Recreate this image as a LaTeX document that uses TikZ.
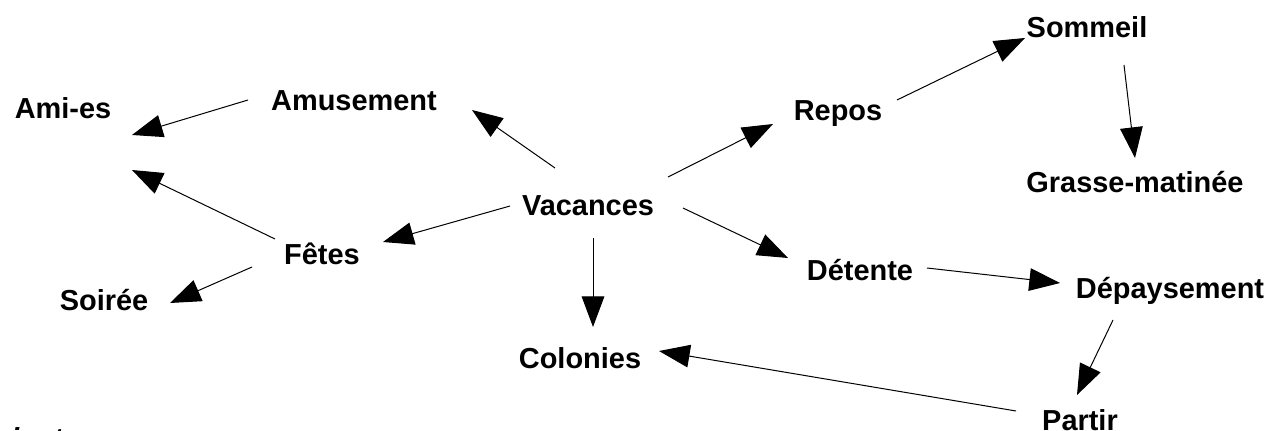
\documentclass[tikz,border=0pt]{standalone}
\usepackage{fontspec}
\setmainfont{Liberation Sans}
\usetikzlibrary{arrows.meta}
\tikzset{>={Triangle[length=23pt,width=17pt]}}
\tikzset{mot/.style={font=\bfseries\fontsize{21.7}{26}\selectfont, inner sep=0pt, text height=15.6pt, text depth=0pt}}

\begin{document}
\begin{tikzpicture}[x=0.75pt, y=-0.75pt, line width=0.75pt]
\useasboundingbox (0,0) rectangle (1281,431);
% les mots
\node[mot] (vac) at (588,205) {Vacances};
\node[mot] (amus) at (354,100) {Amusement};
\node[mot] (amies) at (63,108) {Ami-es};
\node[mot] (fetes) at (322,254) {Fêtes};
\node[mot] (soiree) at (104,300) {Soirée};
\node[mot] (col) at (580,358) {Colonies};
\node[mot] (repos) at (838,110) {Repos};
\node[mot] (som) at (1087,27) {Sommeil};
\node[mot] (grasse) at (1135,182) {Grasse-matinée};
\node[mot] (det) at (860,270) {Détente};
\node[mot] (dep) at (1170,288) {Dépaysement};
\node[mot] (partir) at (1080,420) {Partir};
\node[mot, font=\bfseries\itshape\fontsize{21.7}{26}\selectfont, anchor=base west] (var) at (-35,448) {Variante};
% les fleches
\draw[->] ([shift={(-106,0)}]amus.center) -- ([shift={(69,27)}]amies.center);
\draw[->] ([shift={(-47,-15)}]fetes.center) -- ([shift={(69,62)}]amies.center);
\draw[->] ([shift={(-33,-37)}]vac.center) -- ([shift={(118,10)}]amus.center);
\draw[->] ([shift={(-78,1)}]vac.center) -- ([shift={(61,-12)}]fetes.center);
\draw[->] ([shift={(-70,13)}]fetes.center) -- ([shift={(66,3)}]soiree.center);
\draw[->] ([shift={(5,33)}]vac.center) -- ([shift={(13,-31)}]col.center);
\draw[->] ([shift={(80,-28)}]vac.center) -- ([shift={(-65,14)}]repos.center);
\draw[->] ([shift={(59,-10)}]repos.center) -- ([shift={(-62,11)}]som.center);
\draw[->] ([shift={(37,38)}]som.center) -- ([shift={(0,-24)}]grasse.center);
\draw[->] ([shift={(95,3)}]vac.center) -- ([shift={(-72,-12)}]det.center);
\draw[->] ([shift={(67,-2)}]det.center) -- ([shift={(-110,-5)}]dep.center);
\draw[->] ([shift={(-57,32)}]dep.center) -- ([shift={(-3,-25)}]partir.center);
\draw[->] ([shift={(-64,-9)}]partir.center) -- ([shift={(79,-7)}]col.center);
\end{tikzpicture}
\end{document}
